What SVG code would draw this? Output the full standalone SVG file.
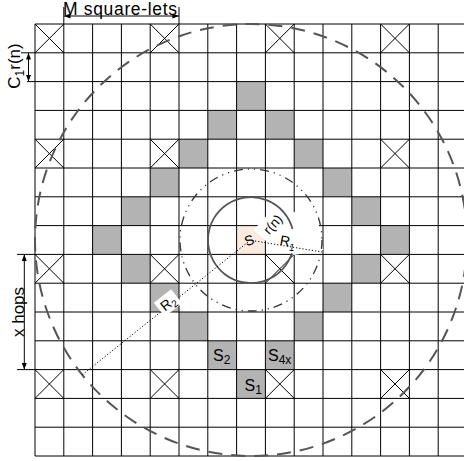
<svg xmlns="http://www.w3.org/2000/svg" xmlns:xlink="http://www.w3.org/1999/xlink" width="464" height="461" viewBox="0 0 464 461">
<style>
.g{fill:#b3b3b3}
.grid{stroke:#000;stroke-width:1;fill:none}
.x{stroke:#000;stroke-width:1;fill:none}
.lbl{font-family:"Liberation Sans",Arial,sans-serif;fill:#000}
.dot{stroke:#000;stroke-width:1;stroke-dasharray:1.2 2;fill:none}
.dim{stroke:#000;stroke-width:1;fill:none}
</style>
<defs>
<marker id="arr" viewBox="0 0 8 6" refX="8" refY="3" markerWidth="7" markerHeight="5" markerUnits="userSpaceOnUse" orient="auto-start-reverse"><path d="M0,0 L8,3 L0,6 z" fill="#000"/></marker>
<path id="xc" d="M0 0 L28.8 28.8 M28.8 0 L0 28.8"/>
</defs>
<rect width="464" height="461" fill="#fff"/>
<g id="cells">
<rect class="g" x="236.6" y="81.6" width="28.8" height="28.8"/>
<rect class="g" x="207.8" y="110.4" width="28.8" height="28.8"/>
<rect class="g" x="265.4" y="110.4" width="28.8" height="28.8"/>
<rect class="g" x="179" y="139.2" width="28.8" height="28.8"/>
<rect class="g" x="294.2" y="139.2" width="28.8" height="28.8"/>
<rect class="g" x="150.2" y="168" width="28.8" height="28.8"/>
<rect class="g" x="323" y="168" width="28.8" height="28.8"/>
<rect class="g" x="121.4" y="196.8" width="28.8" height="28.8"/>
<rect class="g" x="351.8" y="196.8" width="28.8" height="28.8"/>
<rect class="g" x="92.6" y="225.6" width="28.8" height="28.8"/>
<rect class="g" x="380.6" y="225.6" width="28.8" height="28.8"/>
<rect class="g" x="121.4" y="254.4" width="28.8" height="28.8"/>
<rect class="g" x="351.8" y="254.4" width="28.8" height="28.8"/>
<rect class="g" x="150.2" y="283.2" width="28.8" height="28.8"/>
<rect class="g" x="323" y="283.2" width="28.8" height="28.8"/>
<rect class="g" x="179" y="312" width="28.8" height="28.8"/>
<rect class="g" x="294.2" y="312" width="28.8" height="28.8"/>
<rect class="g" x="207.8" y="340.8" width="28.8" height="28.8"/>
<rect class="g" x="265.4" y="340.8" width="28.8" height="28.8"/>
<rect class="g" x="236.6" y="369.6" width="28.8" height="28.8"/>
<rect x="236.6" y="225.6" width="28.8" height="28.8" fill="#fcebdf"/>
</g>
<g id="grid" class="grid">
<path d="M35 24V456M63.8 24V456M92.6 24V456M121.4 24V456M150.2 24V456M179 24V456M207.8 24V456M236.6 24V456M265.4 24V456M294.2 24V456M323 24V456M351.8 24V456M380.6 24V456M409.4 24V456M438.2 24V456
M35 24H467M35 52.8H467M35 81.6H467M35 110.4H467M35 139.2H467M35 168H467M35 196.8H467M35 225.6H467M35 254.4H467M35 283.2H467M35 312H467M35 340.8H467M35 369.6H467M35 398.4H467M35 427.2H467M35 456H467"/>
</g>
<g id="crossed" class="x">
<use xlink:href="#xc" x="35" y="24"/><use xlink:href="#xc" x="150.2" y="24"/><use xlink:href="#xc" x="265.4" y="24"/><use xlink:href="#xc" x="380.6" y="24"/>
<use xlink:href="#xc" x="35" y="139.2"/><use xlink:href="#xc" x="150.2" y="139.2"/><use xlink:href="#xc" x="380.6" y="139.2"/>
<use xlink:href="#xc" x="35" y="254.4"/><use xlink:href="#xc" x="150.2" y="254.4"/><use xlink:href="#xc" x="265.4" y="254.4"/><use xlink:href="#xc" x="380.6" y="254.4"/>
<use xlink:href="#xc" x="35" y="369.6"/><use xlink:href="#xc" x="150.2" y="369.6"/><use xlink:href="#xc" x="265.4" y="369.6"/><use xlink:href="#xc" x="380.6" y="369.6"/>
</g>
<path d="M253.7 229.9 L276.5 204.7 L294 212 L318 220 L323 250 L294 255 L268.5 243.3 Z" fill="#fff"/>
<g id="connectors">
<circle cx="251" cy="240" r="216" fill="none" stroke="#555" stroke-width="2" stroke-dasharray="14 9"/>
<circle cx="251" cy="240" r="71" fill="none" stroke="#333" stroke-width="1.3" stroke-dasharray="9 5 1.2 5 1.2 5"/>
<path d="M291.9 253.3 A43 43 0 1 1 292.5 228.9" fill="none" stroke="#555" stroke-width="1.8"/>
<path class="dot" d="M255 241 L322 252"/>
<path class="dot" d="M248 242 L82 375"/>
<path class="dim" d="M63.8 16 H179" marker-start="url(#arr)" marker-end="url(#arr)"/>
<path class="dim" d="M63.8 7 V24 M179 7 V24"/>
<path class="dim" d="M28.5 52.8 V81.6" marker-start="url(#arr)" marker-end="url(#arr)"/>
<path class="dim" d="M21 52.8 H35 M27 81.6 H35"/>
<path class="dim" d="M24.3 254.4 V369.6" marker-start="url(#arr)" marker-end="url(#arr)"/>
<path class="dim" d="M17 254.4 H35 M17 369.6 H35"/>
</g>
<g id="labels" class="lbl">
<text x="63" y="15" font-size="17.5" textLength="114">M square-lets</text>
<text transform="translate(20 66) rotate(-90)" font-size="17" text-anchor="middle">C<tspan font-size="12" dy="4">1</tspan><tspan dy="-4">r(n)</tspan></text>
<text transform="translate(23.5 312) rotate(-90)" font-size="17" text-anchor="middle">x hops</text>
<text transform="translate(251 245) rotate(-20)" font-size="14" text-anchor="middle">S</text>
<text transform="translate(272.5 224) rotate(-48)" font-size="13.5" text-anchor="middle" dy="5">r(n)</text>
<text transform="translate(287 246) rotate(10)" font-size="14" text-anchor="middle">R<tspan font-size="10" dy="4">1</tspan></text>
<g transform="translate(168 303) rotate(-38)"><rect x="-11" y="-9" width="22" height="18" fill="#fff"/><text x="0" y="5" font-size="14" text-anchor="middle">R<tspan font-size="10" dy="3">2</tspan></text></g>
<text x="213" y="361" font-size="16">S<tspan font-size="12" dy="3">2</tspan></text>
<text x="268" y="361" font-size="16">S<tspan font-size="12" dy="3">4x</tspan></text>
<text x="244.5" y="391" font-size="16">S<tspan font-size="12" dy="3">1</tspan></text>
</g>
</svg>
